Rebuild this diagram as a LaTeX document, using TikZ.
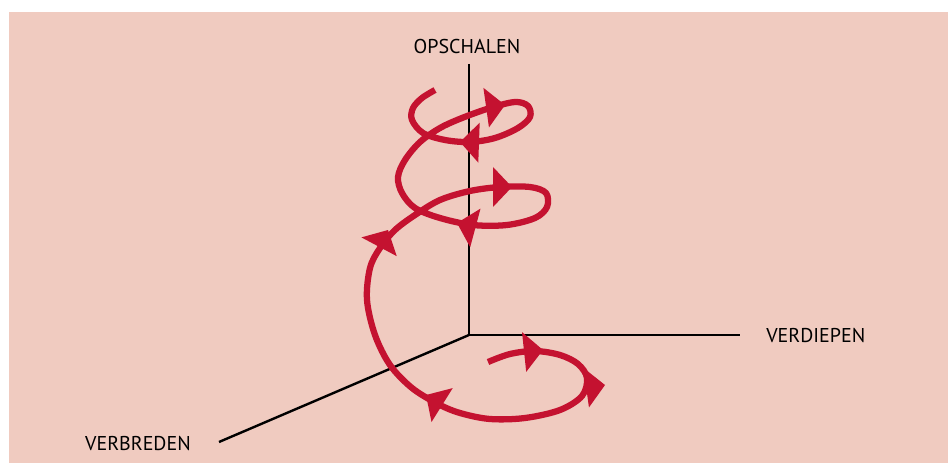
\documentclass[tikz,border=0pt]{standalone}
\usepackage{fontspec}
\setsansfont{PT Sans}
\usepackage{xcolor}
\usetikzlibrary{
    positioning
}

\definecolor{bgpink}{HTML}{F0CBC0}
\definecolor{spiralred}{HTML}{C41230}

\begin{document}
\begin{tikzpicture}[
    x=0.75pt,
    y=-0.75pt,
    axis/.style={
        draw=black,
        line width=1.8pt
    },
    spiral/.style={
        draw=spiralred,
        line width=4.7pt,
        line join=round
    },
    axislabel/.style={
        font=\sffamily\fontsize{15}{17}\selectfont,
        text=black,
        inner sep=0pt
    },
    flowtip/.pic={
        \fill[spiralred] (0,0) -- (-19,20) -- (-19,-20) -- cycle;
    }
]

% =========================================================
% Canvas
% =========================================================
\useasboundingbox (0,0) rectangle (948,463);
\fill[white] (0,0) rectangle (948,463);
\fill[bgpink] (9,12) rectangle (948,463);

% =========================================================
% Axes
% =========================================================
\coordinate (origin) at (469,335);
\coordinate (up) at (469,64);
\coordinate (deep) at (740,335);
\coordinate (wide) at (219,442);

\draw[axis] (up) -- (origin) -- (deep);
\draw[axis] (origin) -- (wide);

\node[axislabel] (opschalen) at (467,47) {OPSCHALEN};
\node[axislabel, anchor=west] (verdiepen) at (766,335) {VERDIEPEN};
\node[axislabel, anchor=east] (verbreden) at (191,443) {VERBREDEN};

% =========================================================
% Growth spiral
% =========================================================
\draw[spiral] plot[smooth, tension=0.55] coordinates {
    (488,362) (510,354) (535,351) (560,355) (578,364) (587,378)
    (582,396) (560,410) (525,418) (490,419) (460,413) (438,404)
    (412,388) (390,365) (375,335) (367,300) (370,268) (380,248)
    (395,230) (415,215) (440,200) (470,191) (500,187) (530,187)
    (546,193) (547,207) (535,218) (507,225) (473,225) (440,218)
    (415,208) (402,193) (398,177) (405,160) (420,142) (440,128)
    (462,118) (490,108) (515,102) (528,106) (530,117) (518,128)
    (495,138) (470,142) (445,140) (423,133) (412,120) (413,108)
    (422,98) (435,90)
};

% direction marks
\pic[rotate=6] at (543,350) {flowtip};
\pic[rotate=8] at (605,385) {flowtip};
\pic[rotate=148] at (426,395) {flowtip};
\pic[rotate=62] at (388,230) {flowtip};
\pic[rotate=0] at (512,187) {flowtip};
\pic[rotate=165] at (457,223) {flowtip};
\pic[rotate=8] at (505,105) {flowtip};
\pic[rotate=178] at (460,142) {flowtip};

\end{tikzpicture}
\end{document}
